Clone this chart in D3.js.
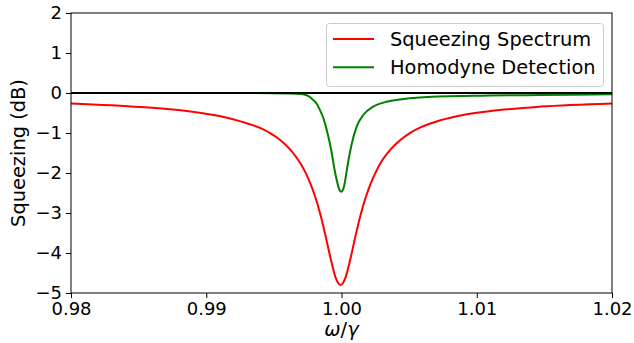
<!DOCTYPE html>
<html>
<head>
<meta charset="utf-8">
<script src="https://cdn.jsdelivr.net/npm/d3@7"></script>
<style>
  html, body { margin: 0; padding: 0; background: #fff; }
  svg { display: block; font-family: "DejaVu Sans", sans-serif; }
</style>
</head>
<body>
<svg id="chart" width="634" height="343"></svg>
<script>
// ---- Data ----
const squeezeX = [0.98000, 0.98514, 0.98884, 0.99106, 0.99254, 0.99402, 0.99475, 0.99549, 0.99623, 0.99697,
  0.99734, 0.99771, 0.99808, 0.99845, 0.99882, 0.99919, 0.99956, 0.99975, 0.99993, 1.00011,
  1.00030, 1.00067, 1.00104, 1.00141, 1.00178, 1.00215, 1.00252, 1.00289, 1.00363, 1.00437,
  1.00511, 1.00584, 1.00732, 1.00880, 1.01102, 1.01472, 1.02000];
const squeezeY = [-0.26, -0.35, -0.46, -0.58, -0.71, -0.88, -1.01, -1.18, -1.42, -1.76,
  -1.99, -2.27, -2.62, -3.05, -3.57, -4.13, -4.61, -4.75, -4.80, -4.75,
  -4.61, -4.13, -3.57, -3.05, -2.62, -2.27, -1.99, -1.75, -1.41, -1.17,
  -0.99, -0.86, -0.68, -0.56, -0.45, -0.34, -0.26];

const homodyneX = [0.98000, 0.99323, 0.99619, 0.99715, 0.99767, 0.99789, 0.99819, 0.99841, 0.99863, 0.99878,
  0.99900, 0.99928, 0.99945, 0.99965, 0.99982, 0.99999, 1.00008, 1.00019, 1.00030, 1.00048,
  1.00075, 1.00112, 1.00161, 1.00235, 1.00334, 1.00433, 1.00580, 1.00972, 1.01468, 1.02000];
const homodyneY = [0.00, 0.00, -0.01, -0.03, -0.10, -0.17, -0.28, -0.43, -0.60, -0.76,
  -1.05, -1.50, -1.85, -2.18, -2.40, -2.47, -2.44, -2.33, -2.13, -1.75,
  -1.28, -0.84, -0.55, -0.34, -0.22, -0.16, -0.11, -0.07, -0.05, -0.03];

const xTicks = [0.98, 0.99, 1.00, 1.01, 1.02];
const xTickLabels = ["0.98", "0.99", "1.00", "1.01", "1.02"];
const yTicks = [-5, -4, -3, -2, -1, 0, 1, 2];
const yTickLabels = ["\u22125", "\u22124", "\u22123", "\u22122", "\u22121", "0", "1", "2"];
const seriesNames = ["Squeezing Spectrum", "Homodyne Detection"];
const seriesColors = ["#ff0000", "#008000"];

// ---- Layout ----
const W = 634, H = 343;
const margin = { left: 71, right: 22, top: 13, bottom: 50 };
const iw = W - margin.left - margin.right;
const ih = H - margin.top - margin.bottom;

const svg = d3.select("#chart");
const g = svg.append("g").attr("transform", `translate(${margin.left},${margin.top})`);

const x = d3.scaleLinear().domain([0.98, 1.02]).range([0, iw]);
const y = d3.scaleLinear().domain([-5, 2]).range([ih, 0]);

g.append("clipPath").attr("id", "clip")
  .append("rect").attr("width", iw).attr("height", ih);

const plot = g.append("g").attr("clip-path", "url(#clip)");

const line = d3.line().x(d => x(d[0])).y(d => y(d[1])).curve(d3.curveMonotoneX);

const series = [
  d3.zip(squeezeX, squeezeY),
  d3.zip(homodyneX, homodyneY)
];

series.forEach((s, i) => {
  plot.append("path").datum(s)
    .attr("fill", "none")
    .attr("stroke", seriesColors[i])
    .attr("stroke-width", 2)
    .attr("stroke-linejoin", "round")
    .attr("d", line);
});

// zero reference line
plot.append("line")
  .attr("x1", 0).attr("x2", iw)
  .attr("y1", y(0)).attr("y2", y(0))
  .attr("stroke", "#000").attr("stroke-width", 2);

// ---- Axes ----
const tickFs = 18;
const labelFs = 19.4;
const xAxis = d3.axisBottom(x).tickValues(xTicks)
  .tickFormat((d, i) => xTickLabels[i]).tickSize(5).tickPadding(4);
const yAxis = d3.axisLeft(y).tickValues(yTicks)
  .tickFormat((d, i) => yTickLabels[i]).tickSize(5).tickPadding(4);

const gx = g.append("g").attr("transform", `translate(0,${ih})`).call(xAxis);
const gy = g.append("g").call(yAxis);
[gx, gy].forEach(a => {
  a.select(".domain").remove();
  a.selectAll("line").attr("stroke", "#000").attr("stroke-width", 1);
  a.selectAll("text").attr("font-size", tickFs).attr("fill", "#000")
    .attr("font-family", "DejaVu Sans, sans-serif");
});

// frame (spines)
g.append("rect").attr("width", iw).attr("height", ih)
  .attr("fill", "none").attr("stroke", "#000").attr("stroke-width", 1);

// axis labels
svg.append("text")
  .attr("transform", `translate(25,${margin.top + ih / 2}) rotate(-90)`)
  .attr("text-anchor", "middle")
  .attr("font-size", labelFs)
  .text("Squeezing (dB)");

const xl = svg.append("text")
  .attr("x", margin.left + iw / 2).attr("y", 336)
  .attr("text-anchor", "middle")
  .attr("font-size", labelFs);
xl.append("tspan").attr("font-style", "italic").text("ω");
xl.append("tspan").text("/");
xl.append("tspan").attr("font-style", "italic").text("γ");

// ---- Legend ----
const lg = svg.append("g");
lg.append("rect")
  .attr("x", 326.5).attr("y", 23.5).attr("width", 277).attr("height", 63)
  .attr("rx", 3).attr("ry", 3)
  .attr("fill", "#fff").attr("fill-opacity", 0.8)
  .attr("stroke", "#cccccc").attr("stroke-width", 1);
seriesNames.forEach((name, i) => {
  const cy = 39 + i * 28.3;
  lg.append("line").attr("x1", 333).attr("x2", 374).attr("y1", cy).attr("y2", cy)
    .attr("stroke", seriesColors[i]).attr("stroke-width", 2);
  lg.append("text").attr("x", 390).attr("y", cy).attr("dy", "0.35em")
    .attr("font-size", labelFs).text(name);
});
</script>
</body>
</html>
